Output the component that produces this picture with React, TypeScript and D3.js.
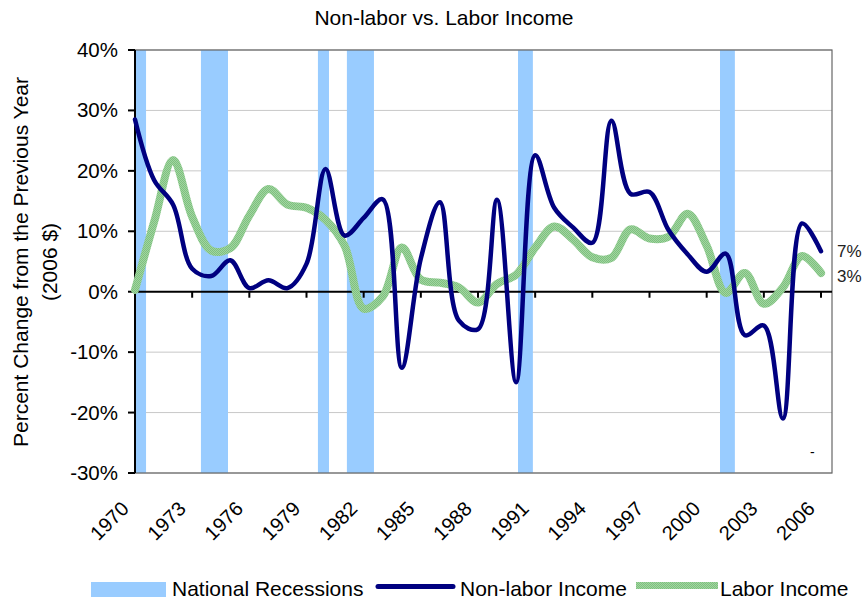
import React from "react";
import * as d3 from "d3";

const years: number[] = d3.range(1970, 2007);
const nonLabor: number[] = [
  28.5, 18.5, 14.4, 3.8, 2.6, 5.2, 0.6, 1.9, 0.6, 4.6,
  20.3, 9.3, 12.2, 15.3, -12.6, 5.5, 14.8, -4.8, -6.2, 15.2,
  -15.0, 22.6, 13.9, 10.6, 8.1, 28.3, 16.2, 16.5, 10.2, 6.2,
  3.3, 6.3, -7.2, -5.6, -21.0, 11.3, 6.7,
];
const labor: number[] = [
  0.3, 11.5, 21.8, 12.4, 6.8, 7.2, 12.6, 17.0, 14.4, 13.9,
  11.9, 7.6, -2.8, -0.8, 7.3, 2.0, 1.5, 0.7, -1.8, 1.3,
  2.8, 7.3, 10.8, 8.6, 5.7, 5.6, 10.3, 8.8, 9.1, 12.9,
  7.6, -0.2, 3.1, -2.0, 0.7, 5.9, 3.1,
];
const recessions: [number, number][] = [
  [1970.0, 1970.58],
  [1973.46, 1974.88],
  [1979.6, 1980.18],
  [1981.12, 1982.54],
  [1990.1, 1990.88],
  [2000.7, 2001.48],
];
const yTicks: number[] = [40, 30, 20, 10, 0, -10, -20, -30];
const xTickYears: number[] = d3.range(1970, 2007, 3);
const title = "Non-labor vs. Labor Income";
const yLabel1 = "Percent Change from the Previous Year";
const yLabel2 = "(2006 $)";
const legendLabels = ["National Recessions", "Non-labor Income", "Labor Income"];

const FONT = "'Liberation Sans', Arial, Helvetica, sans-serif";

export default function App() {
  const left = 135, right = 832, top = 50, bottom = 473;
  const x = d3.scaleLinear().domain([1970, 2006]).range([135, 821]);
  const y = d3.scaleLinear().domain([-30, 40]).range([bottom, top]);
  const line = d3
    .line<number>()
    .x((_, i) => x(years[i]))
    .y((d) => y(d))
    .curve(d3.curveCatmullRom.alpha(0.5));

  const lastNL = nonLabor[nonLabor.length - 1];
  const lastL = labor[labor.length - 1];

  return (
    <svg
      width={863}
      height={601}
      style={{ position: "absolute", left: 0, top: 0, background: "#fff" }}
      fontFamily={FONT}
    >
      <defs>
        <pattern id="greenTex" width="2" height="2" patternUnits="userSpaceOnUse">
          <rect width="2" height="2" fill="#a0d6a0" />
          <rect width="1" height="1" fill="#7fbf7f" />
          <rect x="1" y="1" width="1" height="1" fill="#7fbf7f" />
        </pattern>
        <clipPath id="plotClip">
          <rect x={left} y={top} width={right - left} height={bottom - top} />
        </clipPath>
      </defs>
      <rect width={863} height={601} fill="#fff" />

      <text x={444} y={25} textAnchor="middle" fontSize={21} fill="#000">
        {title}
      </text>

      {/* gridlines */}
      {yTicks.filter((t) => t !== 0).map((t) => (
        <line key={t} x1={left} x2={right} y1={y(t)} y2={y(t)} stroke="#c8c8c8" strokeWidth={1} />
      ))}

      {/* recessions */}
      <g clipPath="url(#plotClip)">
        {recessions.map(([a, b], i) => (
          <rect key={i} x={x(a)} y={top} width={x(b) - x(a)} height={bottom - top} fill="#99ccff" />
        ))}
      </g>

      {/* plot border */}
      <rect x={left} y={top} width={right - left} height={bottom - top} fill="none" stroke="#666" strokeWidth={1.2} />

      {/* zero axis */}
      <line x1={left} x2={right} y1={y(0)} y2={y(0)} stroke="#000" strokeWidth={2} />
      {xTickYears.map((yr) => (
        <line key={yr} x1={x(yr)} x2={x(yr)} y1={y(0)} y2={y(0) + 6} stroke="#000" strokeWidth={2} />
      ))}

      {/* y axis */}
      <line x1={left} x2={left} y1={top} y2={bottom} stroke="#000" strokeWidth={2} />
      {yTicks.map((t) => (
        <g key={t}>
          <line x1={left - 7} x2={left} y1={y(t)} y2={y(t)} stroke="#000" strokeWidth={2} />
          <text x={118} y={y(t) + 7} textAnchor="end" fontSize={20.5} fill="#000">
            {`${t}%`}
          </text>
        </g>
      ))}

      {/* lines */}
      <path d={line(labor) || ""} fill="none" stroke="url(#greenTex)" strokeWidth={8} strokeLinejoin="round" strokeLinecap="round" />
      <path d={line(nonLabor) || ""} fill="none" stroke="#000080" strokeWidth={4.5} strokeLinejoin="round" strokeLinecap="round" />

      {/* end labels */}
      <text x={837} y={y(lastNL) + 6} fontSize={17} fill="#222">{`${Math.round(lastNL)}%`}</text>
      <text x={837} y={y(lastL) + 9} fontSize={17} fill="#222">{`${Math.round(lastL)}%`}</text>
      <text x={810} y={457} fontSize={14} fill="#000">-</text>

      {/* x labels */}
      {xTickYears.map((yr) => (
        <text
          key={yr}
          transform={`translate(${x(yr) - 5},${510}) rotate(-45)`}
          textAnchor="end"
          fontSize={20}
          fill="#000"
        >
          {yr}
        </text>
      ))}

      {/* y label */}
      <g transform={`translate(0,262) rotate(-90)`}>
        <text x={0} y={28} textAnchor="middle" fontSize={21} fill="#000">{yLabel1}</text>
        <text x={0} y={57} textAnchor="middle" fontSize={21} fill="#000">{yLabel2}</text>
      </g>

      {/* legend */}
      <rect x={91} y={582} width={75} height={15} fill="#99ccff" />
      <text x={172} y={596} fontSize={21} fill="#000">{legendLabels[0]}</text>
      <line x1={378} x2={453} y1={586.5} y2={586.5} stroke="#000080" strokeWidth={5} strokeLinecap="round" />
      <text x={460} y={596} fontSize={21} fill="#000">{legendLabels[1]}</text>
      <rect x={636} y={582} width={82} height={7} fill="url(#greenTex)" />
      <text x={720} y={596} fontSize={21} fill="#000">{legendLabels[2]}</text>
    </svg>
  );
}
